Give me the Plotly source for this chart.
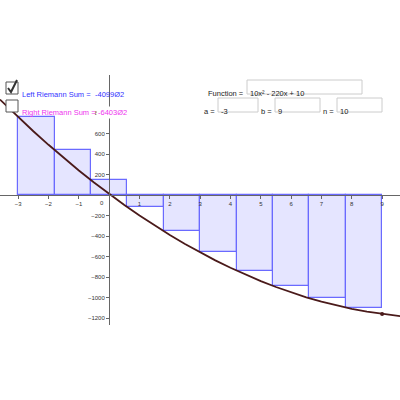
import plotly.graph_objects as go

# Riemann rectangles (left endpoints, width 1.2)
rect_left = [-3, -1.8, -0.6, 0.6, 1.8, 3, 4.2, 5.4, 6.6, 7.8]
rect_height = [760, 438.4, 145.6, -118.4, -353.6, -560, -737.6, -886.4, -1006.4, -1097.6]
rect_width = 1.2

# curve f(x) = 10x^2 - 220x + 10
curve_x = [-3.6, -3, -2.5, -2, -1.5, -1, -0.5, 0, 0.5, 1, 1.5, 2, 2.5, 3, 3.5, 4,
           4.5, 5, 5.5, 6, 6.5, 7, 7.5, 8, 8.5, 9, 9.6]
curve_y = [931.6, 760, 622.5, 490, 362.5, 240, 122.5, 10, -97.5, -200, -297.5, -390,
           -477.5, -560, -637.5, -710, -777.5, -840, -897.5, -950, -997.5, -1040,
           -1077.5, -1110, -1137.5, -1160, -1181.6]
end_x = [9]
end_y = [-1160]

x_ticks = [-3, -2, -1, 1, 2, 3, 4, 5, 6, 7, 8, 9]
y_ticks = [-1200, -1000, -800, -600, -400, -200, 200, 400, 600, 800]

fig = go.Figure()
fig.add_trace(go.Bar(x=rect_left, y=rect_height, width=rect_width, offset=0,
                     marker=dict(color="rgba(110,110,255,0.18)",
                                 line=dict(color="#6a6aff", width=1.2))))
fig.add_trace(go.Scatter(x=curve_x, y=curve_y, mode="lines",
                         line=dict(color="#4a1a1a", width=1.8)))
fig.add_trace(go.Scatter(x=end_x, y=end_y, mode="markers",
                         marker=dict(color="#4a1a1a", size=4)))

fig.update_layout(
    width=400, height=400, showlegend=False, bargap=0,
    margin=dict(l=0, r=0, t=0, b=0),
    paper_bgcolor="white", plot_bgcolor="white",
    font=dict(family="Liberation Sans", size=6, color="#333"),
    xaxis=dict(range=[-3.6, 9.59], domain=[0, 1], anchor="free", position=0.5125,
               showgrid=False, zeroline=False, showline=True, linecolor="#666",
               tickvals=x_ticks, ticks="outside", ticklen=3, tickcolor="#666"),
    yaxis=dict(range=[-1268, 1171], domain=[0.1875, 0.8125], anchor="free",
               position=0.2725, showgrid=False, zeroline=False, showline=True,
               linecolor="#666", tickvals=y_ticks, ticks="outside", ticklen=3,
               tickcolor="#666"),
)

def px(v):
    return v / 400

def py(v):
    return 1 - v / 400

shapes = []
ann = []
# checkboxes
for y0 in [82, 100]:
    shapes.append(dict(type="rect", xref="paper", yref="paper",
                       x0=px(6), x1=px(18), y0=py(y0 + 12), y1=py(y0),
                       line=dict(color="#555", width=1), fillcolor="white"))
shapes.append(dict(type="path", xref="paper", yref="paper",
                   path=f"M {px(8)} {py(88)} L {px(11)} {py(92)} L {px(17)} {py(80)}",
                   line=dict(color="#333", width=2)))
ann.append(dict(x=px(20), y=py(88), xref="paper", yref="paper", xanchor="left",
                text="Left Riemann Sum =", showarrow=False,
                font=dict(size=7.5, color="#3333ff")))
ann.append(dict(x=px(93), y=py(88), xref="paper", yref="paper", xanchor="left",
                text="-4099Ø2", showarrow=False, font=dict(size=7.5, color="#3333ff")))
ann.append(dict(x=px(20), y=py(106), xref="paper", yref="paper", xanchor="left",
                text="Right Riemann Sum =", showarrow=False,
                font=dict(size=7.5, color="#ee33ee")))
ann.append(dict(x=px(96), y=py(106), xref="paper", yref="paper", xanchor="left",
                text="-6403Ø2", showarrow=False, font=dict(size=7.5, color="#ee33ee"),
                bgcolor="white"))

# input boxes
boxes = [(247, 362, 80, 94, "10x² - 220x + 10", "Function ="),
         (218, 258, 98, 112, "-3", "a ="),
         (275, 320, 98, 112, "9", "b ="),
         (337, 382, 98, 112, "10", "n =")]
for x0, x1, y0, y1, val, lab in boxes:
    shapes.append(dict(type="rect", xref="paper", yref="paper",
                       x0=px(x0), x1=px(x1), y0=py(y1), y1=py(y0),
                       line=dict(color="#ccc", width=1), fillcolor="white"))
    ann.append(dict(x=px(x0 + 1), y=py((y0 + y1) / 2), xref="paper", yref="paper",
                    xanchor="left", text=val, showarrow=False,
                    font=dict(size=7.5, color="#222")))
    ann.append(dict(x=px(x0 - 1), y=py((y0 + y1) / 2), xref="paper", yref="paper",
                    xanchor="right", text=lab, showarrow=False,
                    font=dict(size=7.5, color="#222")))
ann.append(dict(x=px(106), y=py(198), xref="paper", yref="paper", xanchor="right",
                yanchor="top", text="0", showarrow=False, font=dict(size=6, color="#333")))

fig.update_layout(shapes=shapes, annotations=ann)
fig.write_html("out.html", config={"displayModeBar": False},
               post_script="document.body.style.margin='0';")
